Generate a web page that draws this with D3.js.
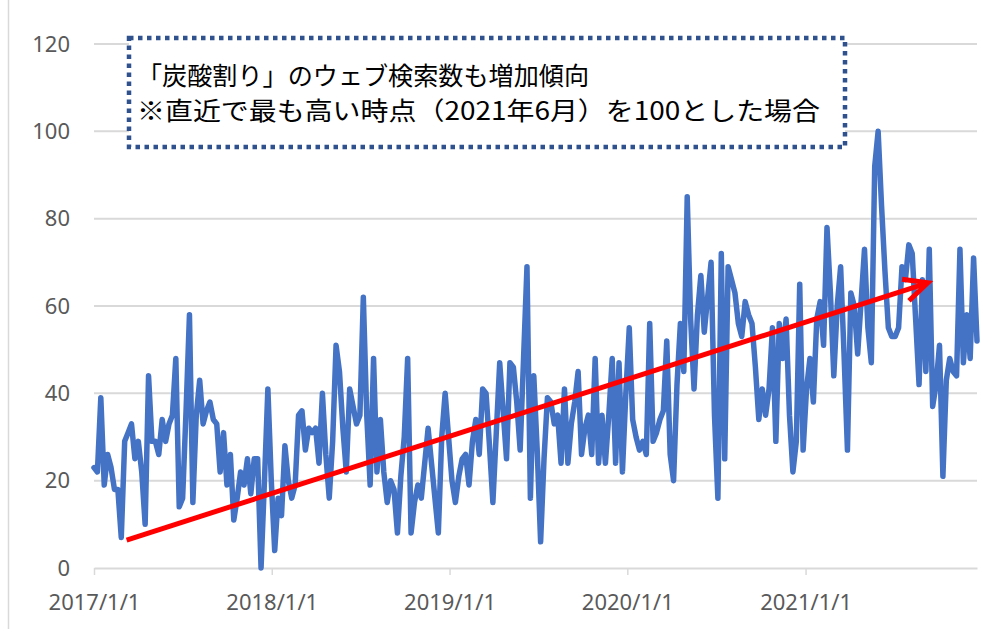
<!DOCTYPE html>
<html>
<head>
<meta charset="utf-8">
<script src="https://cdn.jsdelivr.net/npm/d3@7"></script>
<style>
  body { margin: 0; background: #fff; }
  svg { display: block; }
</style>
</head>
<body>
<svg id="chart" width="996" height="629"></svg>
<script>
// weekly search index, first week starting 2017-01-01
const firstWeek = "2017-01-01";
const searchIndex = [
  23, 22, 39, 19, 26, 23, 18, 18, 7, 29,
  31, 33, 25, 29, 22, 10, 44, 29, 29, 26,
  34, 29, 33, 35, 48, 14, 16, 36, 58, 15,
  35, 43, 33, 36, 38, 34, 33, 22, 31, 19,
  26, 11, 16, 22, 19, 25, 17, 25, 25, 0,
  20, 41, 20, 4, 16, 12, 28, 20, 16, 19,
  35, 36, 27, 32, 31, 32, 24, 40, 26, 16,
  29, 51, 45, 32, 22, 41, 37, 33, 35, 62,
  35, 19, 48, 22, 34, 22, 15, 20, 18, 8,
  21, 30, 48, 8, 15, 19, 16, 24, 32, 24,
  16, 8, 30, 40, 30, 20, 15, 21, 25, 26,
  19, 29, 34, 26, 41, 40, 28, 15, 31, 47,
  36, 25, 47, 46, 38, 27, 48, 69, 16, 44,
  27, 6, 25, 39, 38, 33, 35, 24, 41, 24,
  33, 38, 45, 26, 32, 35, 26, 48, 24, 35,
  24, 35, 48, 24, 47, 22, 40, 55, 34, 30,
  27, 29, 26, 56, 29, 31, 34, 36, 52, 26,
  20, 42, 56, 45, 85, 57, 41, 58, 67, 54,
  62, 70, 35, 16, 72, 25, 69, 66, 63, 56,
  53, 61, 58, 56, 46, 34, 41, 35, 41, 55,
  29, 56, 48, 57, 35, 22, 29, 65, 27, 41,
  48, 38, 57, 61, 51, 78, 63, 44, 60, 69,
  49, 27, 63, 60, 49, 61, 73, 55, 47, 92,
  100, 83, 68, 55, 53, 53, 55, 69, 66, 74,
  72, 57, 42, 66, 45, 73, 37, 42, 51, 21,
  43, 48, 45, 44, 73, 47, 58, 48, 71, 52
];
const yTicks = [0, 20, 40, 60, 80, 100, 120];
const xTicks = ["2017-01-01", "2018-01-01", "2019-01-01", "2020-01-01", "2021-01-01"];
const xTickLabels = ["2017/1/1", "2018/1/1", "2019/1/1", "2020/1/1", "2021/1/1"];
const noteLines = [
  "「炭酸割り」のウェブ検索数も増加傾向",
  "※直近で最も高い時点（2021年6月）を100とした場合"
];
// trend arrow, in data terms
const trendFrom = { date: "2017-03-09", value: 6.4 };
const trendTo = { date: "2021-09-09", value: 65.3 };

const parse = d3.utcParse("%Y-%m-%d");
const start = parse(firstWeek);
const series = searchIndex.map((v, i) => ({ date: d3.utcWeek.offset(start, i), value: v }));

const svg = d3.select("#chart");
const labelFont = "'Noto Sans', 'Liberation Sans', sans-serif";
const gridColor = "#d9d9d9";
const textColor = "#595959";

const x = d3.scaleUtc()
  .domain([start, series[series.length - 1].date])
  .range([94, 977]);
const y = d3.scaleLinear()
  .domain([0, 120])
  .range([568, 44]);

// chart border (only left edge shows)
svg.append("line")
  .attr("x1", 8.5).attr("x2", 8.5)
  .attr("y1", 0).attr("y2", 629)
  .attr("stroke", gridColor).attr("stroke-width", 1.5);

// gridlines
svg.append("g")
  .selectAll("line")
  .data(yTicks.filter(d => d > 0))
  .join("line")
  .attr("x1", x.range()[0]).attr("x2", x.range()[1])
  .attr("y1", d => y(d)).attr("y2", d => y(d))
  .attr("stroke", gridColor).attr("stroke-width", 2);

// y labels
svg.append("g")
  .selectAll("text")
  .data(yTicks)
  .join("text")
  .attr("x", 70).attr("y", d => y(d))
  .attr("dy", "0.35em")
  .attr("text-anchor", "end")
  .attr("font-family", labelFont)
  .attr("font-size", 22)
  .attr("fill", textColor)
  .text(d => d);

// x axis
const xAxis = svg.append("g")
  .attr("transform", `translate(0,${y(0)})`)
  .call(d3.axisBottom(x)
    .tickValues(xTicks.map(parse))
    .tickFormat((d, i) => xTickLabels[i])
    .tickSize(7)
    .tickSizeOuter(0)
    .tickPadding(19));
xAxis.select(".domain").attr("stroke", gridColor).attr("stroke-width", 2);
xAxis.selectAll(".tick line").attr("stroke", gridColor).attr("stroke-width", 1.5);
xAxis.selectAll(".tick text")
  .attr("font-family", labelFont)
  .attr("font-size", 22)
  .attr("fill", textColor);

// note box
const box = svg.append("g");
box.append("rect")
  .attr("x", 129).attr("y", 38)
  .attr("width", 716).attr("height", 109)
  .attr("fill", "#fff")
  .attr("stroke", "#2F528F")
  .attr("stroke-width", 4.5)
  .attr("stroke-dasharray", "4.5 4.5");

box.selectAll("text")
  .data(noteLines)
  .join("text")
  .attr("x", 137)
  .attr("y", (d, i) => 85 + i * 35)
  .attr("font-family", "'Noto Sans CJK JP', sans-serif")
  .attr("font-size", 25)
  .attr("fill", "#000")
  .attr("textLength", (d, i) => i === 0 ? 452 : 683)
  .attr("lengthAdjust", "spacingAndGlyphs")
  .text(d => d);

// search index line
const line = d3.line()
  .x(d => x(d.date))
  .y(d => y(d.value));

svg.append("path")
  .datum(series)
  .attr("fill", "none")
  .attr("stroke", "#4472C4")
  .attr("stroke-width", 5.5)
  .attr("stroke-linejoin", "round")
  .attr("stroke-linecap", "round")
  .attr("d", line);

// trend arrow
const x0 = x(parse(trendFrom.date)), y0 = y(trendFrom.value);
const x1 = x(parse(trendTo.date)), y1 = y(trendTo.value);
const ang = Math.atan2(y1 - y0, x1 - x0);
const head = 26, spread = 0.45;
svg.append("line")
  .attr("x1", x0).attr("y1", y0)
  .attr("x2", x1 - 3 * Math.cos(ang)).attr("y2", y1 - 3 * Math.sin(ang))
  .attr("stroke", "#ff0000")
  .attr("stroke-width", 5);
svg.append("path")
  .attr("d", d3.line()([
    [x1 - head * Math.cos(ang - spread), y1 - head * Math.sin(ang - spread)],
    [x1, y1],
    [x1 - head * Math.cos(ang + spread), y1 - head * Math.sin(ang + spread)]
  ]))
  .attr("fill", "none")
  .attr("stroke", "#ff0000")
  .attr("stroke-width", 5)
  .attr("stroke-linejoin", "miter");
</script>
</body>
</html>
